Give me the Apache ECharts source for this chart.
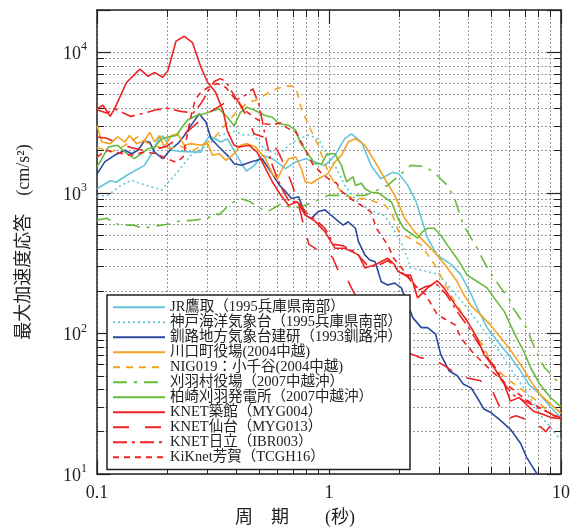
<!DOCTYPE html>
<html>
<head>
<meta charset="utf-8">
<script src="https://cdn.jsdelivr.net/npm/echarts@6/dist/echarts.min.js"></script>
<style>
html, body { margin: 0; padding: 0; background: #fff; }
#chart { width: 573px; height: 532px; }
</style>
</head>
<body>
<div id="chart"></div>
<script>
// period (s) / peak acceleration response (cm/s^2)
const jrTakatori = [[0.1,1070],[0.114,1220],[0.121,1190],[0.134,1330],[0.16,1570],[0.174,1960],[0.186,2480],[0.192,2540],[0.202,2240],[0.209,2010],[0.23,1970],[0.28,1950],[0.29,2240],[0.305,2540],[0.342,2300],[0.365,2430],[0.4,1850],[0.44,1430],[0.475,1560],[0.515,1850],[0.57,1750],[0.65,1490],[0.72,1660],[0.79,1750],[0.87,1660],[0.96,1560],[1.06,1850],[1.17,2430],[1.25,2630],[1.38,2300],[1.52,1560],[1.67,1260],[1.88,1400],[2.0,1370],[2.18,1140],[2.37,870],[2.5,660],[2.66,476],[2.93,360],[3.36,310],[3.7,262],[4.1,190],[4.35,152],[4.8,110],[5.47,83],[6.1,67],[6.7,54],[7.3,43],[8.1,37],[9.0,30],[10,25]]
const kobeJma = [[0.1,940],[0.112,965],[0.128,1140],[0.141,1230],[0.16,1140],[0.19,1050],[0.216,1330],[0.254,1850],[0.3,2180],[0.34,2580],[0.39,2730],[0.43,2580],[0.475,2580],[0.525,2060],[0.61,1850],[0.67,2180],[0.74,2430],[0.82,2580],[0.9,2430],[0.946,2060],[1.06,1570],[1.17,1130],[1.29,912],[1.38,815],[1.58,730],[1.74,690],[1.86,585],[2.05,440],[2.18,343],[2.25,292],[2.66,276],[2.97,262],[3.94,152],[5.3,79],[7.1,38],[8.4,24.5],[9.0,21.5],[10,17.3]]
const kushiro = [[0.1,1360],[0.108,1660],[0.119,1850],[0.132,2010],[0.141,1900],[0.15,2010],[0.16,2340],[0.169,2290],[0.177,1950],[0.192,1750],[0.209,2060],[0.223,2240],[0.238,2560],[0.254,3010],[0.276,3650],[0.295,3180],[0.31,2430],[0.33,2180],[0.365,1850],[0.39,1610],[0.42,1570],[0.46,1660],[0.515,1750],[0.57,1360],[0.61,1140],[0.65,1020],[0.69,912],[0.74,940],[0.79,695],[0.84,659],[0.9,738],[0.96,757],[1.06,659],[1.15,590],[1.21,623],[1.3,560],[1.34,450],[1.43,361],[1.5,333],[1.58,324],[1.68,233],[1.79,221],[1.92,228],[2.05,211],[2.3,129],[2.5,110],[2.66,110],[2.88,99],[3.03,71],[3.3,54],[3.57,50],[3.8,43.5],[4.1,41],[4.35,35],[4.65,29],[4.96,27.5],[5.5,24],[6.1,20.5],[6.7,16.5],[7.1,13.2],[7.6,11],[7.9,10]]
const kawaguchi = [[0.1,3000],[0.105,2300],[0.114,2240],[0.123,2500],[0.132,2300],[0.138,2560],[0.148,2240],[0.16,2360],[0.169,2700],[0.177,2300],[0.186,2560],[0.195,2120],[0.209,2560],[0.223,2630],[0.238,2180],[0.254,2240],[0.28,2180],[0.3,2240],[0.315,1850],[0.336,1900],[0.36,1700],[0.39,1900],[0.415,2180],[0.443,2240],[0.483,2120],[0.533,1750],[0.57,1360],[0.6,1260],[0.63,1490],[0.67,1750],[0.72,1800],[0.76,1490],[0.79,1200],[0.84,1170],[0.9,1260],[0.99,1370],[1.06,1660],[1.13,1850],[1.21,2300],[1.3,2430],[1.43,2180],[1.58,1660],[1.74,1260],[1.92,960],[2.12,660],[2.34,528],[2.66,425],[2.93,360],[3.24,292],[3.57,234],[3.8,190],[4.1,157],[4.5,136],[4.96,115],[5.5,93],[6.1,75],[6.7,60],[7.4,46],[8.1,37],[9.0,31.5],[10,27]]
const ojiya = [[0.1,2100],[0.115,1950],[0.13,2150],[0.15,2500],[0.17,2200],[0.2,2050],[0.23,2150],[0.26,2000],[0.29,2250],[0.31,2350],[0.33,2600],[0.36,3100],[0.41,3950],[0.45,4400],[0.5,4650],[0.53,4990],[0.59,5480],[0.65,5750],[0.69,5750],[0.72,5600],[0.76,3960],[0.83,2860],[0.87,2430],[0.9,2180],[0.93,1850],[0.98,1490],[1.03,1260],[1.1,1070],[1.17,960],[1.29,912],[1.43,912],[1.58,865],[1.75,815],[1.88,690],[2.0,528],[2.25,470],[2.5,425],[2.6,385],[2.84,312],[3.4,180],[3.9,125],[4.35,93],[4.65,81],[4.96,63],[5.2,57],[5.6,51],[5.9,47],[6.5,42],[7.2,37],[7.9,33],[8.4,30],[9.3,26],[10,24]]
const kariwaVillage = [[0.1,640],[0.11,660],[0.125,590],[0.143,590],[0.158,560],[0.177,580],[0.205,600],[0.227,630],[0.263,640],[0.3,660],[0.32,714],[0.336,700],[0.377,840],[0.416,912],[0.46,860],[0.48,815],[0.54,730],[0.625,840],[0.69,776],[0.79,815],[0.93,912],[0.99,960],[1.21,960],[1.43,960],[1.6,1040],[1.79,1130],[2.05,1370],[2.25,1570],[2.6,1540],[2.93,1330],[3.24,1130],[3.48,912],[3.63,735],[3.8,590],[4.1,476],[4.35,404],[4.65,325],[5.05,259],[5.5,211],[6.05,170],[6.2,152],[7.1,110],[7.84,73],[8.5,57],[9.3,49],[10,42]]
const kashiwazaki = [[0.1,1530],[0.105,1750],[0.112,2120],[0.123,2180],[0.132,1950],[0.145,1750],[0.155,1900],[0.166,2060],[0.177,2120],[0.19,2430],[0.202,2500],[0.22,2560],[0.23,2860],[0.245,3290],[0.27,3570],[0.29,3650],[0.32,3870],[0.336,3960],[0.365,3450],[0.39,3000],[0.415,3740],[0.443,4070],[0.48,3850],[0.533,3540],[0.57,3450],[0.61,3100],[0.67,3030],[0.72,2780],[0.75,2290],[0.82,1850],[0.87,1610],[0.93,1610],[0.98,1900],[1.06,1900],[1.13,1570],[1.19,1200],[1.27,1300],[1.3,1130],[1.38,1170],[1.43,1070],[1.52,1010],[1.63,1000],[1.86,860],[1.98,660],[2.1,560],[2.25,516],[2.41,476],[2.53,530],[2.66,560],[2.84,560],[3.03,500],[3.24,425],[3.48,360],[3.7,310],[3.94,260],[4.35,234],[4.8,211],[5.15,179],[5.7,143],[6.05,115],[6.44,93],[6.9,75],[7.4,57],[8.1,43.5],[9.0,35],[10,30]]
const tsukidate = [[0.1,3960],[0.106,4200],[0.114,3500],[0.119,3960],[0.134,6100],[0.153,7590],[0.166,6740],[0.177,7200],[0.192,6650],[0.202,7400],[0.219,12000],[0.238,13000],[0.258,11700],[0.28,7900],[0.3,6100],[0.325,5170],[0.35,3800],[0.365,2740],[0.39,2180],[0.41,2120],[0.452,2180],[0.49,1950],[0.524,1570],[0.57,1200],[0.62,960],[0.67,815],[0.73,865],[0.79,695],[0.87,630],[0.96,530],[1.06,404],[1.17,404],[1.34,362],[1.43,292],[1.58,308],[1.79,343],[1.92,308],[1.98,277],[2.12,260],[2.25,260],[2.41,179],[2.66,211],[2.93,237],[3.13,211],[3.57,152],[3.94,123],[4.35,93],[4.65,71],[5.15,57],[5.7,43.5],[6.05,33],[6.6,35],[7.6,28],[8.4,26.5],[9.0,25.3],[10,24.7]]
const sendai = [[0.1,2500],[0.11,2450],[0.12,2300],[0.14,2100],[0.16,2000],[0.18,2050],[0.2,2150],[0.22,2400],[0.25,2800],[0.28,3300],[0.31,3800],[0.35,4300],[0.38,4800],[0.41,4400],[0.45,3300],[0.475,2630],[0.52,2500],[0.56,2300],[0.6,2000],[0.64,1600],[0.7,1100],[0.75,750],[0.79,530],[0.82,430],[0.9,390],[1.0,370],[1.04,343],[1.13,248],[1.21,235],[1.27,200],[1.4,150],[1.6,110],[1.8,90],[2.1,75],[2.5,67],[2.8,66],[3.2,58],[3.6,50],[4.0,48],[4.5,46],[5.0,41],[5.3,33],[5.6,27],[6.0,25],[6.4,26],[7.3,24],[8.2,21.5],[8.6,20],[9.0,22],[10,21]]
const hitachi = [[0.1,3900],[0.11,3700],[0.12,3950],[0.13,3700],[0.14,3500],[0.16,3700],[0.18,3900],[0.2,4000],[0.23,3800],[0.26,3700],[0.28,4300],[0.3,5200],[0.32,6200],[0.34,6500],[0.36,6200],[0.38,5300],[0.4,4600],[0.44,5000],[0.47,5500],[0.5,4200],[0.53,2600],[0.56,1700],[0.6,1250],[0.64,1000],[0.68,850],[0.73,880],[0.8,720],[0.88,640],[0.96,560],[1.05,430],[1.15,420],[1.3,380],[1.45,310],[1.6,300],[1.8,330],[2.0,280],[2.2,250],[2.4,200],[2.6,215],[2.9,225],[3.2,190],[3.6,140],[4.0,110],[4.4,85],[4.8,68],[5.3,55],[5.8,42],[6.3,36],[7.0,33],[7.8,30],[8.6,28],[9.4,26],[10,25]]
const haga = [[0.1,1800],[0.11,2000],[0.12,1950],[0.14,1850],[0.16,1950],[0.18,1900],[0.2,1750],[0.22,1650],[0.235,1800],[0.245,2600],[0.255,3600],[0.265,4600],[0.28,5200],[0.3,5600],[0.33,6000],[0.36,5600],[0.4,4500],[0.44,3800],[0.48,3400],[0.53,3100],[0.57,3050],[0.62,3150],[0.66,2900],[0.72,2700],[0.75,2400],[0.8,1950],[0.85,1600],[0.92,1400],[1.0,1250],[1.08,1170],[1.13,1030],[1.25,900],[1.4,800],[1.52,730],[1.6,560],[1.8,420],[1.9,343],[2.1,280],[2.4,211],[2.6,190],[2.9,140],[3.0,133],[3.5,115],[3.7,93],[4.2,72],[4.8,58],[5.5,47],[6.2,40],[7.0,34],[8.0,30],[9.0,27],[10,25]]

const names = [
  'JR鷹取（1995兵庫県南部）',
  '神戸海洋気象台（1995兵庫県南部）',
  '釧路地方気象台建研（1993釧路沖）',
  '川口町役場(2004中越)',
  'NIG019：小千谷(2004中越)',
  '刈羽村役場（2007中越沖）',
  '柏崎刈羽発電所（2007中越沖）',
  'KNET築館（MYG004）',
  'KNET仙台（MYG013）',
  'KNET日立（IBR003）',
  'KiKnet芳賀（TCGH16）'
]
const xTicks = [0.1, 1, 10]
const yTicks = [10, 100, 1000, 10000]

const seriesData = [jrTakatori, kobeJma, kushiro, kawaguchi, ojiya, kariwaVillage, kashiwazaki, tsukidate, sendai, hitachi, haga]
const colors = ['#63c6dc', '#63c6dc', '#2b4a9e', '#f5a220', '#f5a220', '#67bb3c', '#67bb3c', '#ee2222', '#ee2222', '#ee2222', '#ee2222']
const dashes = ['solid', [2, 3], 'solid', 'solid', [7, 6], [14, 7, 3, 7], 'solid', 'solid', [16, 16], [14, 5, 3, 5], [6, 5]]

const serif = "'Liberation Serif', 'Noto Sans CJK JP', serif"
const gridColor = '#9a9a9a'
const frame = { show: true, onZero: false, lineStyle: { color: '#222', width: 1.5 } }

function logAxis(opt) {
  return Object.assign({
    type: 'log',
    logBase: 10,
    axisLine: frame,
    axisTick: { show: true, inside: true, length: 14, lineStyle: { color: '#222', width: 1.2 } },
    minorTick: { show: true, splitNumber: 9, length: 7, lineStyle: { color: '#222', width: 1 } },
    splitLine: { show: false },
    minorSplitLine: { show: false },
    axisLabel: { show: false }
  }, opt)
}

const gridLines = {
  splitLine: { show: true, lineStyle: { color: gridColor, type: [2, 2], width: 1 } },
  minorSplitLine: { show: true, lineStyle: { color: gridColor, type: [2, 2], width: 1 } }
}

const chart = echarts.init(document.getElementById('chart'))

const option = {
  backgroundColor: '#fff',
  animation: false,
  grid: { left: 97, right: 9, top: 10, bottom: 55 },
  legend: {
    orient: 'vertical',
    left: 107,
    top: 295,
    padding: [5, 8, 5, 5],
    itemWidth: 52,
    itemHeight: 10,
    itemGap: 0.5,
    backgroundColor: '#fff',
    borderColor: '#222',
    borderWidth: 1.5,
    borderRadius: 0,
    // hide the circle marker that line series put on their legend icon
    itemStyle: { color: 'rgba(0,0,0,0)', borderWidth: 0, opacity: 0 },
    textStyle: { fontFamily: serif, fontSize: 14.5, color: '#222', lineHeight: 13 },
    data: names
  },
  xAxis: [
    logAxis(Object.assign({
      min: 0.1, max: 10, position: 'bottom',
      name: '周　期　　(秒)',
      nameLocation: 'middle',
      nameGap: 35,
      nameTextStyle: { fontFamily: serif, fontSize: 18, color: '#222', padding: [0, 68, 0, 0] },
      axisLabel: {
        show: true, margin: 10, color: '#222', fontFamily: serif, fontSize: 18,
        formatter: v => xTicks.indexOf(+v) >= 0 ? String(v) : ''
      }
    }, gridLines)),
    logAxis({ min: 0.1, max: 10, position: 'top' })
  ],
  yAxis: [
    logAxis(Object.assign({
      min: 10, max: 20000, position: 'left',
      name: '最大加速度応答　(cm/s²)',
      nameLocation: 'middle',
      nameGap: 64,
      nameRotate: 90,
      nameTextStyle: { fontFamily: serif, fontSize: 18, color: '#222' },
      axisLabel: {
        show: true, margin: 10, color: '#222',
        formatter: v => yTicks.indexOf(+v) >= 0 ? '{b|10}{s|' + Math.round(Math.log10(v)) + '}' : '',
        rich: {
          b: { fontFamily: serif, fontSize: 18, color: '#222', lineHeight: 22, verticalAlign: 'bottom' },
          s: { fontFamily: serif, fontSize: 12, color: '#222', verticalAlign: 'top' }
        }
      }
    }, gridLines)),
    logAxis({ min: 10, max: 20000, position: 'right' })
  ],
  series: seriesData.map((d, i) => ({
    name: names[i],
    type: 'line',
    data: d,
    xAxisIndex: 0,
    yAxisIndex: 0,
    showSymbol: false,
    symbol: 'none',
    clip: true,
    color: colors[i],
    lineStyle: { color: colors[i], width: 1.6, type: dashes[i] }
  }))
}

chart.setOption(option)
</script>
</body>
</html>
